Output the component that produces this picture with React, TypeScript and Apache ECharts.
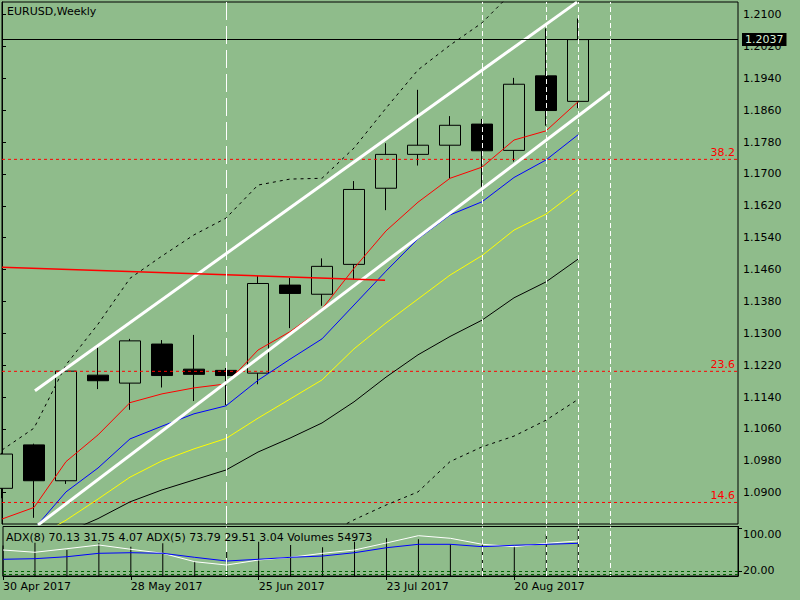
import React, { useEffect, useRef } from "react";
import * as echarts from "echarts";

const BG = "#8fbc8b";
const FONT = "DejaVu Sans";
const RED = "#ff0000";

const symbolName = "EURUSD";
const timeframe = "Weekly";

const dates = [
  "30 Apr 2017", "7 May 2017", "14 May 2017", "21 May 2017", "28 May 2017",
  "4 Jun 2017", "11 Jun 2017", "18 Jun 2017", "25 Jun 2017", "2 Jul 2017",
  "9 Jul 2017", "16 Jul 2017", "23 Jul 2017", "30 Jul 2017", "6 Aug 2017",
  "13 Aug 2017", "20 Aug 2017", "27 Aug 2017", "3 Sep 2017",
];
const futureDates = ["10 Sep 2017", "17 Sep 2017", "24 Sep 2017", "1 Oct 2017", "8 Oct 2017"];

const opens = [1.0911, 1.1020, 1.0930, 1.1195, 1.1175, 1.1273, 1.1210, 1.1207, 1.1200, 1.1421, 1.1398, 1.1473, 1.1664, 1.1749, 1.1772, 1.1825, 1.1759, 1.1946, 1.1882];
const closes = [1.0997, 1.0930, 1.1205, 1.1181, 1.1281, 1.1194, 1.1197, 1.1194, 1.1425, 1.1400, 1.1468, 1.1661, 1.1749, 1.1772, 1.1822, 1.1758, 1.1925, 1.1859, 1.2037];
const lows = [1.0886, 1.0837, 1.0922, 1.1160, 1.1108, 1.1164, 1.1130, 1.1120, 1.1172, 1.1313, 1.1369, 1.1435, 1.1609, 1.1721, 1.1689, 1.1668, 1.1731, 1.1821, 1.1865];
const highs = [1.1000, 1.1023, 1.1210, 1.1266, 1.1286, 1.1283, 1.1296, 1.1213, 1.1444, 1.1439, 1.1488, 1.1682, 1.1777, 1.1911, 1.1845, 1.1838, 1.1941, 1.2065, 1.2090];

const maRed = [1.0834, 1.0863, 1.0978, 1.1045, 1.1126, 1.1148, 1.1163, 1.1173, 1.1258, 1.1304, 1.1361, 1.1463, 1.1557, 1.1629, 1.1689, 1.1717, 1.1785, 1.1808, 1.1881];
const maBlue = [1.0770, 1.0809, 1.0902, 1.0962, 1.1035, 1.1067, 1.1098, 1.1118, 1.1182, 1.1235, 1.1286, 1.1371, 1.1456, 1.1537, 1.1597, 1.1630, 1.1691, 1.1735, 1.1798];
const maYellow = [1.0745, 1.0785, 1.0831, 1.0884, 1.0939, 1.0980, 1.1010, 1.1036, 1.1087, 1.1135, 1.1183, 1.1261, 1.1326, 1.1386, 1.1446, 1.1495, 1.1559, 1.1599, 1.1660];
const maBlack = [1.0740, 1.0770, 1.0800, 1.0835, 1.0877, 1.0907, 1.0932, 1.0957, 1.1002, 1.1037, 1.1075, 1.1128, 1.1190, 1.1246, 1.1292, 1.1333, 1.1389, 1.1429, 1.1486];
const bandUpper = [1.1007, 1.1062, 1.1221, 1.1323, 1.1438, 1.1494, 1.1547, 1.1589, 1.1672, 1.1687, 1.1689, 1.1765, 1.1865, 1.1961, 1.2023, 1.2079, 1.2160, 1.2230, 1.2290];
const bandLower = [null, null, null, null, null, null, null, null, null, null, 1.0790, 1.0832, 1.0869, 1.0902, 1.0978, 1.1015, 1.1042, 1.1082, 1.1134];

const priceTicks = [1.0900, 1.0980, 1.1060, 1.1140, 1.1220, 1.1300, 1.1380, 1.1460, 1.1540, 1.1620, 1.1700, 1.1780, 1.1860, 1.1940, 1.2020, 1.2100];
const priceMin = 1.082146;
const priceMax = 1.213137;

const fibLabels = ["38.2", "23.6", "14.6"];
const fibPrices = [1.17365, 1.12046, 1.08755];

const vLineIdx = [7, 15, 17, 18, 19];

const upperChannelX = [1.03, 17.97];
const upperChannelY = [1.1156, 1.2131];
const lowerChannelX = [1.125, 19.0];
const lowerChannelY = [1.0819, 1.1906];
const trendX = [0, 11.97];
const trendY = [1.1466, 1.1433];

const adxWhite = [60.0, 55.8, 62.4, 69.2, 61.3, 53.9, 38.4, 32.3, 41.6, 46.5, 53.9, 60.0, 73.0, 86.4, 81.6, 70.5, 66.1, 72.3, 76.6];
const adxBlue = [42.9, 44.0, 47.6, 53.9, 55.0, 53.9, 46.5, 39.7, 42.9, 46.5, 48.9, 55.0, 64.2, 70.5, 70.5, 66.1, 68.7, 70.5, 72.3];
const volumes = [36000, 39200, 30600, 38500, 34500, 38500, 16800, 28600, 40400, 36500, 33800, 40400, 44400, 43200, 37300, 42400, 34500, 49100, 54973];
const adxLevels = [20, 15];
const subAxisValues = [100, 20, 15];
const adx8Vals = [70.13, 31.75, 4.07];
const adx5Vals = [73.79, 29.51, 3.04];

export default function App() {
  const ref = useRef<HTMLDivElement>(null);
  useEffect(() => {
    if (!ref.current) return;
    const chart = echarts.init(ref.current, null, { renderer: "svg" });
    const categories = dates.concat(futureDates);
    const nSlots = categories.length - 1;
    const txt = { fontFamily: FONT, fontSize: 11, color: "#000" };
    const adxText =
      "ADX(8) " + adx8Vals.map((v) => v.toFixed(2)).join(" ") +
      " ADX(5) " + adx5Vals.map((v) => v.toFixed(2)).join(" ") +
      " Volumes " + volumes[volumes.length - 1];

    const vLines = vLineIdx.map((k, i) => ({
      xAxis: k,
      lineStyle: { color: "#fff", width: 1, type: i === 0 ? [18, 6] : [5, 3] },
      label: { show: false },
    }));

    const lastClose = closes[closes.length - 1];

    const fibSeries = fibPrices.map((p, i) => ({
      type: "line", xAxisIndex: 1, yAxisIndex: 0, symbol: "none", z: 3,
      data: [[0, p], [nSlots, p]],
      lineStyle: { color: RED, width: 1, type: [3, 3] },
      markPoint: {
        silent: true, animation: false, symbol: "rect", symbolSize: 0,
        data: [{
          coord: [nSlots, p],
          label: {
            show: true, formatter: fibLabels[i], position: "insideBottomRight",
            offset: [2, 4], fontFamily: FONT, fontSize: 11, color: RED,
            align: "right", verticalAlign: "bottom",
          },
        }],
      },
    }));

    const option: any = {
      animation: false,
      backgroundColor: BG,
      title: [
        { text: symbolName + "," + timeframe, left: 7, top: 5, padding: 0, textStyle: { ...txt, fontWeight: "normal", lineHeight: 13 } },
        { text: adxText, left: 6, top: 531, padding: 0, textStyle: { ...txt, fontWeight: "normal", lineHeight: 13 } },
      ],
      grid: [
        { left: 2, top: 2, width: 736, height: 522, show: true, borderColor: "#000", borderWidth: 1, backgroundColor: "transparent", containLabel: false },
        { left: 2, top: 526.5, width: 736, height: 49.5, show: true, borderColor: "#000", borderWidth: 1, backgroundColor: "transparent", containLabel: false },
      ],
      xAxis: [
        { type: "category", gridIndex: 0, data: categories, boundaryGap: false, show: false },
        { type: "value", gridIndex: 0, min: 0, max: nSlots, show: false },
        {
          type: "category", gridIndex: 1, data: categories, boundaryGap: false,
          axisLine: { show: true, lineStyle: { color: "#000", width: 1 } },
          axisTick: { show: true, length: 4, lineStyle: { color: "#000" }, interval: (i: number) => i % 4 === 0 && i < dates.length },
          axisLabel: { ...txt, align: "left", margin: 5, interval: (i: number) => i % 4 === 0 && i < dates.length },
          splitLine: { show: false },
        },
      ],
      yAxis: [
        {
          type: "value", gridIndex: 0, position: "right", min: priceMin, max: priceMax, scale: true,
          axisLine: { show: true, lineStyle: { color: "#000" } },
          axisTick: { show: true, length: 4, lineStyle: { color: "#000" }, customValues: priceTicks },
          axisLabel: { ...txt, margin: 5, customValues: priceTicks, formatter: (v: number) => v.toFixed(4) },
          splitLine: { show: false },
        },
        {
          type: "value", gridIndex: 1, position: "right", min: 12.07, max: 103.32,
          axisLine: { show: true, lineStyle: { color: "#000" } },
          axisTick: { show: true, length: 4, lineStyle: { color: "#000" }, customValues: subAxisValues },
          axisLabel: {
            ...txt, margin: 5, customValues: subAxisValues, hideOverlap: false,
            formatter: (v: number) => (v === 100 ? "{a|" : v === 20 ? "{b|" : "{c|") + v.toFixed(2) + "}",
            rich: {
              a: { ...txt, padding: [12, 0, 0, 0] },
              b: { ...txt, padding: [0, 0, 3, 0] },
              c: { ...txt, padding: [0, 0, 0, 0] },
            },
          },
          splitLine: { show: false },
        },
        { type: "value", gridIndex: 1, min: 0, max: 58300, show: false },
      ],
      series: [
        {
          type: "candlestick", xAxisIndex: 0, yAxisIndex: 0, barWidth: 22, clip: true, z: 2,
          data: dates.map((_, i) => [opens[i], closes[i], lows[i], highs[i]]),
          itemStyle: { color: BG, color0: "#000", borderColor: "#000", borderColor0: "#000", borderWidth: 1 },
        },
        ...fibSeries,
        { type: "line", xAxisIndex: 0, yAxisIndex: 0, data: maRed, symbol: "none", z: 3, lineStyle: { color: RED, width: 1 } },
        { type: "line", xAxisIndex: 0, yAxisIndex: 0, data: maBlue, symbol: "none", z: 3, lineStyle: { color: "#0000ff", width: 1 } },
        { type: "line", xAxisIndex: 0, yAxisIndex: 0, data: maYellow, symbol: "none", z: 3, lineStyle: { color: "#ffff00", width: 1 } },
        {
          type: "line", xAxisIndex: 0, yAxisIndex: 0, data: maBlack, symbol: "none", z: 3, lineStyle: { color: "#000", width: 1 },
          markLine: {
            silent: true, symbol: ["none", "none"], animation: false, precision: 4,
            data: [
              {
                yAxis: lastClose,
                lineStyle: { color: "#000", width: 1, type: "solid" },
                label: {
                  show: true, position: "end", distance: 4, formatter: lastClose.toFixed(4),
                  fontFamily: FONT, fontSize: 11, color: "#d8efd4", backgroundColor: "#000", padding: [1, 3, 1, 3],
                },
              },
              ...vLines,
            ],
          },
        },
        { type: "line", xAxisIndex: 0, yAxisIndex: 0, data: bandUpper, symbol: "none", z: 3, lineStyle: { color: "#000", width: 1, type: [3, 4] } },
        { type: "line", xAxisIndex: 0, yAxisIndex: 0, data: bandLower, symbol: "none", z: 3, lineStyle: { color: "#000", width: 1, type: [3, 4] } },
        {
          type: "line", xAxisIndex: 1, yAxisIndex: 0, symbol: "none", z: 4,
          data: upperChannelX.map((x, i) => [x, upperChannelY[i]]),
          lineStyle: { color: "#fff", width: 3 },
        },
        {
          type: "line", xAxisIndex: 1, yAxisIndex: 0, symbol: "none", z: 4,
          data: lowerChannelX.map((x, i) => [x, lowerChannelY[i]]),
          lineStyle: { color: "#fff", width: 3 },
        },
        {
          type: "line", xAxisIndex: 1, yAxisIndex: 0, symbol: "none", z: 4,
          data: trendX.map((x, i) => [x, trendY[i]]),
          lineStyle: { color: RED, width: 1.5 },
        },
        {
          type: "bar", xAxisIndex: 2, yAxisIndex: 2, data: volumes, barWidth: 1, z: 2,
          itemStyle: { color: "#000" },
          markLine: {
            silent: true, symbol: ["none", "none"], animation: false,
            data: vLines,
          },
        },
        {
          type: "line", xAxisIndex: 2, yAxisIndex: 1, data: adxWhite, symbol: "none", z: 3,
          lineStyle: { color: "#fff", width: 1 },
          markLine: {
            silent: true, symbol: ["none", "none"], animation: false,
            data: adxLevels.map((lv) => ({ yAxis: lv, lineStyle: { color: "#006400", width: 1, type: [3, 3] }, label: { show: false } })),
          },
        },
        { type: "line", xAxisIndex: 2, yAxisIndex: 1, data: adxBlue, symbol: "none", z: 3, lineStyle: { color: "#0000ff", width: 1 } },
      ],
    };
    chart.setOption(option);
    return () => chart.dispose();
  }, []);
  return (
    <div
      ref={ref}
      style={{ position: "fixed", left: 0, top: 0, width: 800, height: 600, background: BG }}
    />
  );
}
